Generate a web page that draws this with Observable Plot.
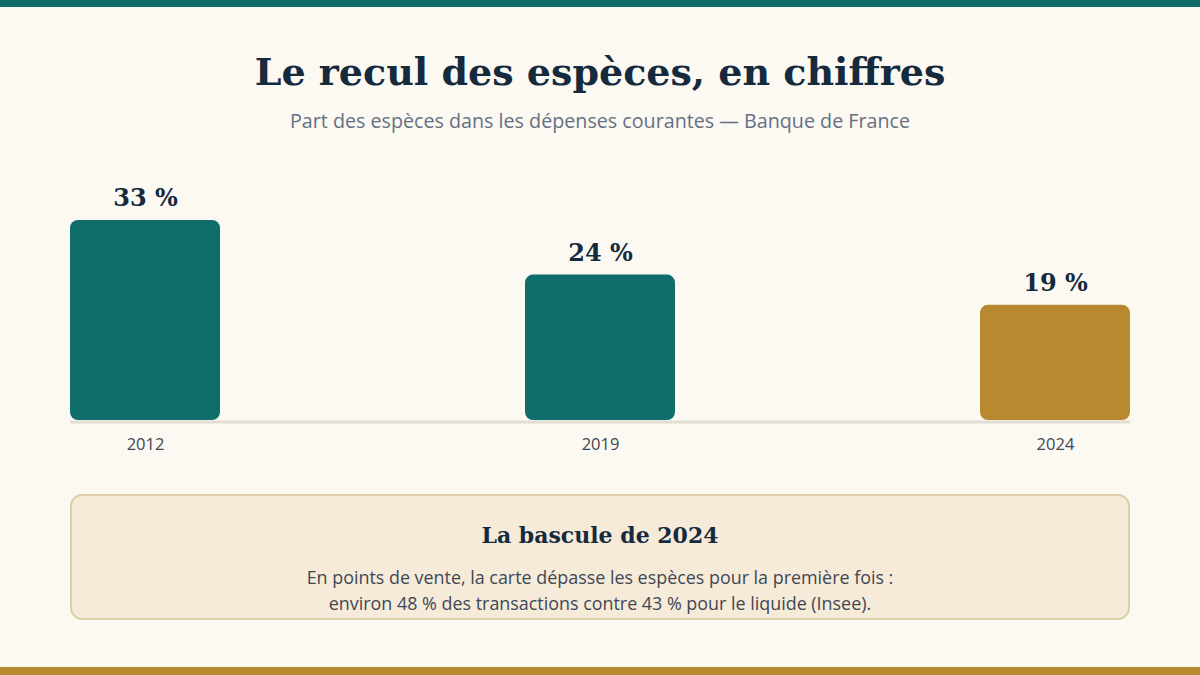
<!DOCTYPE html>
<html lang="fr">
<head>
<meta charset="utf-8">
<script src="https://cdn.jsdelivr.net/npm/d3@7"></script>
<script src="https://cdn.jsdelivr.net/npm/@observablehq/plot@0.6"></script>
<style>
  html, body { margin: 0; padding: 0; }
  body { width: 1200px; height: 675px; background: #FBF9F2; position: relative; overflow: hidden; font-family: "Open Sans", "Noto Sans", sans-serif; }
  .topbar { position: absolute; left: 0; top: 0; width: 1200px; height: 7px; background: #0F6E6C; }
  .bottombar { position: absolute; left: 0; top: 667px; width: 1200px; height: 8px; background: #B8892F; }
  h1 { position: absolute; left: 0; top: 44px; width: 1200px; margin: 0; text-align: center; font-family: "DejaVu Serif", serif; font-weight: bold; font-size: 38px; line-height: 56px; color: #152A3D; }
  .sub { position: absolute; left: 0; top: 107px; width: 1200px; text-align: center; font-size: 19.7px; line-height: 28px; color: #667085; }
  #chart { position: absolute; left: 0; top: 160px; }
  .box { position: absolute; left: 70px; top: 494px; width: 1056px; height: 122px; background: #F6EAD8; border: 2px solid #DDCFA6; border-radius: 12px; text-align: center; }
  .box h2 { margin: 0; position: absolute; left: 0; width: 100%; top: 24px; font-family: "DejaVu Serif", serif; font-weight: bold; font-size: 22px; line-height: 30px; color: #152A3D; }
  .box p { margin: 0; position: absolute; left: 0; width: 100%; top: 68px; font-size: 17.9px; line-height: 26px; color: #3F4756; }
</style>
</head>
<body>
<div class="topbar"></div>
<h1>Le recul des espèces, en chiffres</h1>
<div class="sub">Part des espèces dans les dépenses courantes — Banque de France</div>
<div id="chart"></div>
<div class="box">
  <h2>La bascule de 2024</h2>
  <p>En points de vente, la carte dépasse les espèces pour la première fois :<br>environ 48 % des transactions contre 43 % pour le liquide (Insee).</p>
</div>
<div class="bottombar"></div>
<script>
const years = ["2012", "2019", "2024"];
const shares = [33, 24, 19];
const barColors = ["#0F6E6C", "#0F6E6C", "#B8892F"];
const valueLabels = ["33 %", "24 %", "19 %"];

const data = years.map((y, i) => ({year: y, share: shares[i], color: barColors[i], label: valueLabels[i]}));

const chart = Plot.plot({
  width: 1200,
  height: 310,
  marginLeft: 70,
  marginRight: 70,
  marginTop: 60,
  marginBottom: 50,
  style: {background: "transparent", overflow: "visible"},
  x: {domain: years, padding: 0.6703, paddingOuter: 0, round: false, label: null},
  y: {domain: [0, 33], axis: null},
  marks: [
    Plot.ruleY([0], {stroke: "#E2DED3", strokeWidth: 3, dy: 1.5}),
    Plot.barY(data, {x: "year", y: "share", fill: "color", rx: 8}),
    Plot.text(data, {x: "year", y: "share", text: "label", dy: -22, fontSize: 24, fontWeight: "bold", fontFamily: "DejaVu Serif, serif", fill: "#152A3D"}),
    Plot.axisX({tickSize: 0, tickPadding: 18, fontSize: 16.5, fontFamily: "Open Sans, Noto Sans, sans-serif", color: "#3F4756", label: null})
  ]
});
document.getElementById("chart").appendChild(chart);
</script>
</body>
</html>
